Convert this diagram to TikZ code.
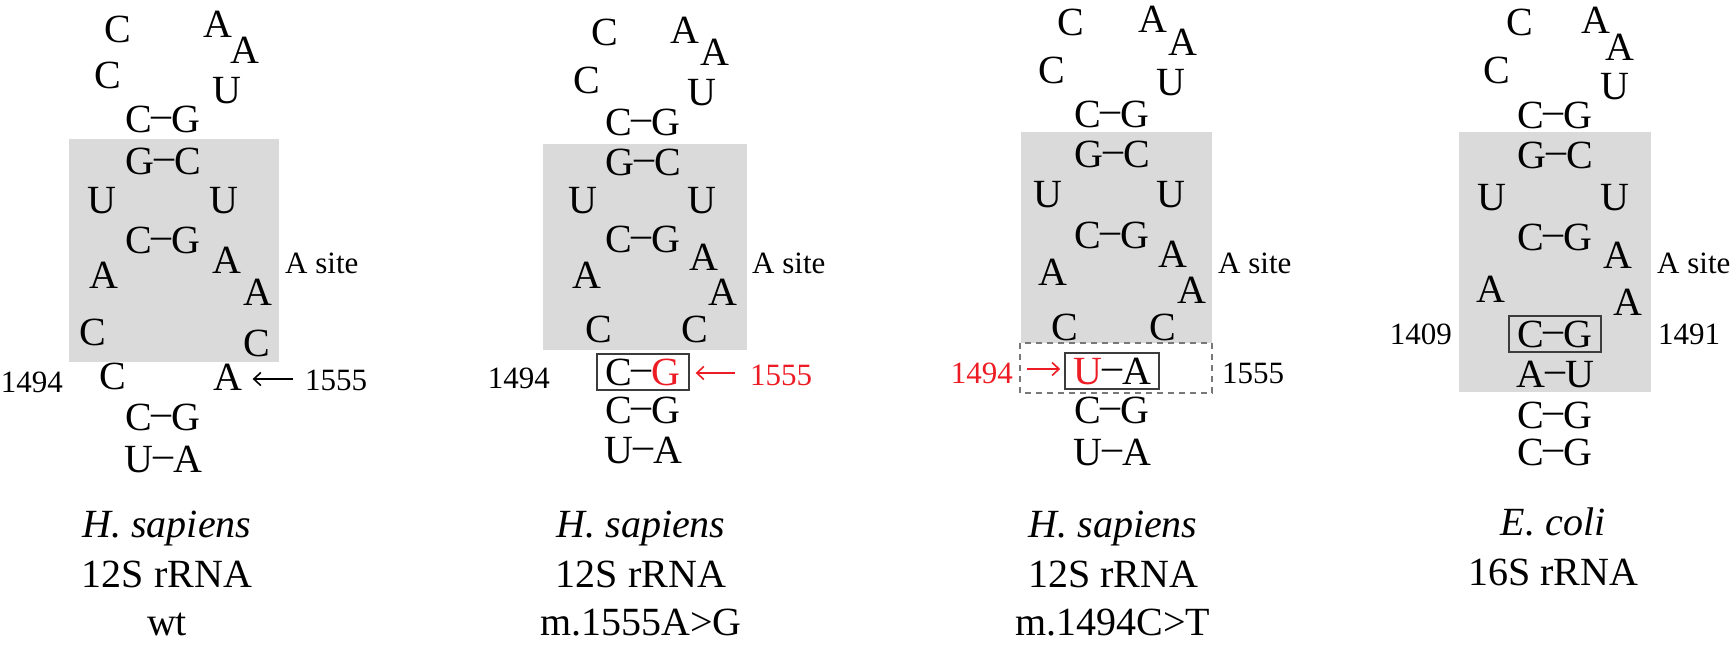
\documentclass[tikz,border=0pt]{standalone}
\usepackage{fontspec}
\setmainfont{Liberation Serif}
\usetikzlibrary{arrows.meta}
\definecolor{mutred}{RGB}{237,28,36}
\definecolor{shade}{RGB}{218,218,218}
\definecolor{boxline}{RGB}{60,60,60}
\definecolor{dashline}{RGB}{120,120,120}
\newcommand\ntsize{\fontsize{40}{48}\selectfont}
\newcommand\labsize{\fontsize{31}{37}\selectfont}
\newcommand\pd{\raisebox{0.12em}{–}}
\begin{document}
\begin{tikzpicture}[x=1pt,y=-1pt,
  nt/.style={anchor=base,inner sep=0pt,font=\ntsize},
  pairbox/.style={anchor=base,font=\ntsize,draw=boxline,line width=1.8pt,inner xsep=8pt,inner ysep=4.5pt},
  labw/.style={anchor=base west,inner sep=0pt,font=\labsize},
  labe/.style={anchor=base east,inner sep=0pt,font=\labsize},
  capt/.style={anchor=base,inner sep=0pt,font=\ntsize},
  shadebox/.style={fill=shade,draw=none},
  arr/.style={line width=1.6pt,-{Straight Barb[length=7pt,width=13pt]}},
  dashbox/.style={draw=dashline,line width=1.5pt,dash pattern=on 6pt off 5pt}]
\useasboundingbox (0,0) rectangle (1733,649);
% ---------------- panel 1 ----------------
\fill[shadebox] (69,139) rectangle (279,362);
\node[nt] (a1) at (118,42) {C};
\node[nt] (a2) at (218,37) {A};
\node[nt] (a3) at (245,63) {A};
\node[nt] (a4) at (108,88) {C};
\node[nt] (a5) at (227,103) {U};
\node[nt] (a6) at (163,132) {C\pd G};
\node[nt] (a7) at (163,174) {G\pd C};
\node[nt] (a8) at (102,213) {U};
\node[nt] (a9) at (224,213) {U};
\node[nt] (a10) at (163,253) {C\pd G};
\node[nt] (a11) at (227,273) {A};
\node[nt] (a12) at (104,288) {A};
\node[nt] (a13) at (258,305) {A};
\node[nt] (a14) at (93,345) {C};
\node[nt] (a15) at (257,356) {C};
\node[nt] (a16) at (113,389) {C};
\node[nt] (a17) at (228,390) {A};
\node[nt] (a18) at (163,430) {C\pd G};
\node[nt] (a19) at (163,472) {U\pd A};
\node[labw] (asite1) at (285,273) {A site};
\node[labe] (n1494a) at (63,392) {1494};
\node[labw] (n1555a) at (305,390) {1555};
\draw[arr] ([xshift=-12pt,yshift=11pt]n1555a.base west) -- ([xshift=10pt,yshift=11pt]a17.base east);
\node[capt] (t1a) at (167,537) {\itshape H. sapiens};
\node[capt] (t1b) at (167,587) {12S rRNA};
\node[capt] (t1c) at (167,635) {wt};
% ---------------- panel 2 ----------------
\fill[shadebox] (543,144) rectangle (747,350);
\node[nt] (b1) at (605,45) {C};
\node[nt] (b2) at (685,43) {A};
\node[nt] (b3) at (715,65) {A};
\node[nt] (b4) at (587,93) {C};
\node[nt] (b5) at (702,105) {U};
\node[nt] (b6) at (643,135) {C\pd G};
\node[nt] (b7) at (643,175) {G\pd C};
\node[nt] (b8) at (583,213) {U};
\node[nt] (b9) at (702,213) {U};
\node[nt] (b10) at (643,252) {C\pd G};
\node[nt] (b11) at (704,270) {A};
\node[nt] (b12) at (587,288) {A};
\node[nt] (b13) at (723,305) {A};
\node[nt] (b14) at (599,342) {C};
\node[nt] (b15) at (695,342) {C};
\node[pairbox] (b16) at (643,385) {C\pd\textcolor{mutred}{G}};
\node[nt] (b17) at (643,423) {C\pd G};
\node[nt] (b18) at (643,463) {U\pd A};
\node[labw] (asite2) at (752,273) {A site};
\node[labe] (n1494b) at (550,388) {1494};
\node[labw,text=mutred] (n1555b) at (750,385) {1555};
\draw[arr,mutred] ([xshift=-15pt,yshift=12pt]n1555b.base west) -- ([xshift=6pt,yshift=12pt]b16.base east);
\node[capt] (t2a) at (641,537) {\itshape H. sapiens};
\node[capt] (t2b) at (641,587) {12S rRNA};
\node[capt] (t2c) at (641,635) {m.1555A>G};
% ---------------- panel 3 ----------------
\fill[shadebox] (1021,132) rectangle (1212,343);
\draw[dashbox] (1020,343) rectangle (1212,393);
\node[nt] (c1) at (1071,35) {C};
\node[nt] (c2) at (1153,32) {A};
\node[nt] (c3) at (1183,55) {A};
\node[nt] (c4) at (1052,83) {C};
\node[nt] (c5) at (1171,95) {U};
\node[nt] (c6) at (1112,127) {C\pd G};
\node[nt] (c7) at (1112,167) {G\pd C};
\node[nt] (c8) at (1048,207) {U};
\node[nt] (c9) at (1171,207) {U};
\node[nt] (c10) at (1112,248) {C\pd G};
\node[nt] (c11) at (1173,267) {A};
\node[nt] (c12) at (1053,285) {A};
\node[nt] (c13) at (1192,303) {A};
\node[nt] (c14) at (1065,340) {C};
\node[nt] (c15) at (1163,340) {C};
\node[pairbox] (c16) at (1112,384) {\textcolor{mutred}{U}\pd A};
\node[nt] (c17) at (1112,423) {C\pd G};
\node[nt] (c18) at (1112,465) {U\pd A};
\node[labw] (asite3) at (1218,273) {A site};
\node[labe,text=mutred] (n1494c) at (1013,383) {1494};
\node[labw] (n1555c) at (1222,383) {1555};
\draw[arr,mutred] ([xshift=14pt,yshift=14pt]n1494c.base east) -- ([xshift=-4pt,yshift=15pt]c16.base west);
\node[capt] (t3a) at (1113,537) {\itshape H. sapiens};
\node[capt] (t3b) at (1113,587) {12S rRNA};
\node[capt] (t3c) at (1113,635) {m.1494C>T};
% ---------------- panel 4 ----------------
\fill[shadebox] (1459,132) rectangle (1651,392);
\node[nt] (d1) at (1520,35) {C};
\node[nt] (d2) at (1596,33) {A};
\node[nt] (d3) at (1620,60) {A};
\node[nt] (d4) at (1497,83) {C};
\node[nt] (d5) at (1615,99) {U};
\node[nt] (d6) at (1555,128) {C\pd G};
\node[nt] (d7) at (1555,168) {G\pd C};
\node[nt] (d8) at (1492,210) {U};
\node[nt] (d9) at (1615,210) {U};
\node[nt] (d10) at (1555,250) {C\pd G};
\node[nt] (d11) at (1618,268) {A};
\node[nt] (d12) at (1491,302) {A};
\node[nt] (d13) at (1628,315) {A};
\node[pairbox] (d14) at (1555,347) {C\pd G};
\node[nt] (d15) at (1555,387) {A\pd U};
\node[nt] (d16) at (1555,428) {C\pd G};
\node[nt] (d17) at (1555,465) {C\pd G};
\node[labw] (asite4) at (1657,273) {A site};
\node[labe] (n1409) at (1452,344) {1409};
\node[labw] (n1491) at (1658,344) {1491};
\node[capt] (t4a) at (1553,535) {\itshape E. coli};
\node[capt] (t4b) at (1553,585) {16S rRNA};
\end{tikzpicture}
\end{document}
